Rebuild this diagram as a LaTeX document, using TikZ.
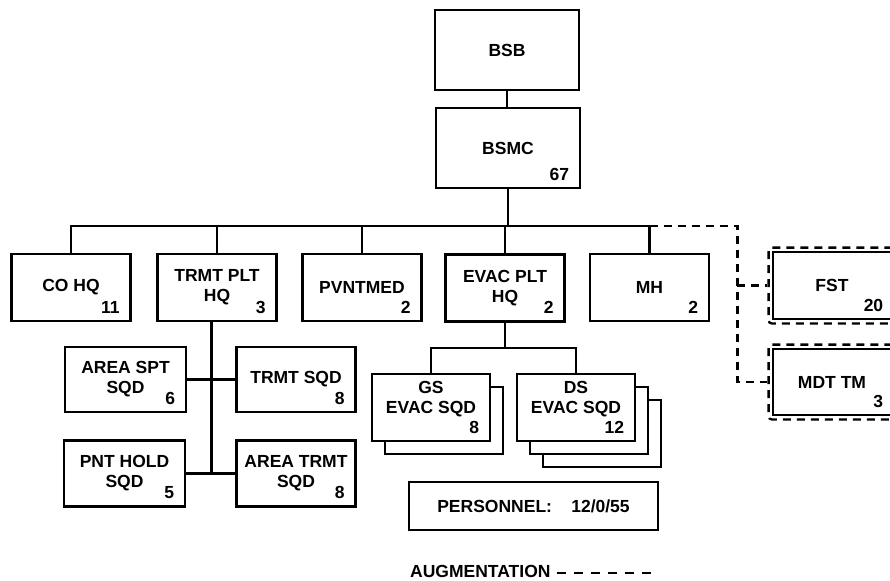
\documentclass[tikz,border=0pt]{standalone}
\usepackage{fontspec}
\setmainfont{Liberation Sans}
\usetikzlibrary{calc,fit,shadows}

\begin{document}
\begin{tikzpicture}[x=1pt, y=-1pt,
		every node/.style={font=\fontsize{17.5}{20}\selectfont\bfseries},
		unit/.style={draw, line width=2.8pt, fill=white, minimum width=119pt, minimum height=67pt, align=center, inner sep=0pt},
		num/.style={anchor=south east, inner sep=0pt, xshift=-12pt, yshift=9pt},
		link/.style={line width=2.8pt},
		augment/.style={line width=2.3pt, dash pattern=on 8pt off 6pt},
		augbox/.style={draw, line width=2.3pt, dash pattern=on 8pt off 6pt, rounded corners=3pt, inner sep=3pt},
		onecopy/.style={copy shadow={shadow xshift=13pt, shadow yshift=-13pt, draw=black, fill=white, line width=2.8pt}},
		twocopy/.style={copy shadow={shadow xshift=26pt, shadow yshift=-26pt, draw=black, fill=white, line width=2.8pt}, onecopy}]
			%%%%% START %%%%%
			\useasboundingbox (0,0) rectangle (890,580);
			
			\node[unit, minimum width=144pt, minimum height=80pt] (bsb) at (507,50) {BSB};
			\node[unit, minimum width=144pt, minimum height=80pt, label={[num]south east:67}] (bsmc) at (508,148) {BSMC};
			
			\node[unit, label={[num]south east:11}] (cohq) at (71,287.5) {CO HQ};
			\node[unit, label={[num]south east:3}] (trmt) at (217,287.5) {TRMT PLT\\HQ};
			\node[unit, label={[num]south east:2}] (pvnt) at (362,287.5) {PVNTMED};
			\node[unit, label={[num]south east:2}] (evac) at (505,288) {EVAC PLT\\HQ};
			\node[unit, label={[num]south east:2}] (mh) at (649.5,287.5) {MH};
			
			\node[unit, minimum width=121pt, minimum height=65pt, label={[num]south east:6}] (arspt) at (125.5,379.5) {AREA SPT\\SQD};
			\node[unit, minimum height=65pt, label={[num]south east:8}] (trsqd) at (296,379.5) {TRMT SQD};
			\node[unit, minimum width=121pt, minimum height=66pt, label={[num]south east:5}] (pnthold) at (124.5,473.5) {PNT HOLD\\SQD};
			\node[unit, minimum height=66pt, label={[num]south east:8}] (artrmt) at (296,473.5) {AREA TRMT\\SQD};
			
			\node[unit, minimum width=118pt, onecopy, label={[num]south east:8}] (gs) at (431,407.5) {GS\\EVAC SQD\\\mbox{}};
			\node[unit, minimum width=118pt, twocopy, label={[num]south east:12}] (ds) at (576,407.5) {DS\\EVAC SQD\\\mbox{}};
			
			\node[draw, line width=2.8pt, minimum width=249pt, minimum height=48pt] (pers) at (533.5,506) {PERSONNEL:\hspace{1.1em}12/0/55};
			
			% augmentation teams
			\node[unit, minimum width=118pt, label={[num, xshift=3pt]south east:20}] (fst) at (832,285.5) {FST};
			\node[unit, minimum width=118pt, minimum height=66pt, label={[num, xshift=3pt]south east:3}] (mdt) at (832,382) {MDT TM};
			\node[augbox, fit=(fst)] (fstaug) {};
			\node[augbox, fit=(mdt)] (mdtaug) {};
			
			% connectors
			\coordinate (bus) at (0,226);
			\draw[link] (bsb.south) -- (bsb.south |- bsmc.north);
			\draw[link] (bsmc.south) -- (bsmc.south |- bus);
			\draw[link] (cohq.north) |- (mh.north |- bus) -- (mh.north);
			\draw[link] (trmt.north) -- (trmt.north |- bus);
			\draw[link] (pvnt.north) -- (pvnt.north |- bus);
			\draw[link] (evac.north) -- (evac.north |- bus);
			
			\coordinate (trunk) at ($(arspt.east)!0.5!(trsqd.west)$);
			\draw[link] (trmt.south -| trunk) -- (trunk |- pnthold.east);
			\draw[link] (arspt.east) -- (trsqd.west);
			\draw[link] (pnthold.east) -- (artrmt.west);
			
			\coordinate (evjoin) at ($(evac.south)+(0,25)$);
			\draw[link] (evac.south) -- (evjoin);
			\draw[link] (gs.north) |- (evjoin) -| (ds.north);
			
			\coordinate (augdrop) at ($(fstaug.west)+(-30,0)$);
			\draw[augment] (mh.north |- bus) -| (augdrop |- mdtaug.west) -- (mdtaug.west);
			\draw[augment] (augdrop) -- (fstaug.west);
			
			% legend
			\node[anchor=west, inner sep=0pt] (augtxt) at (410,571) {AUGMENTATION};
			\coordinate (augend) at (653,573);
			\draw[augment, dash pattern=on 9pt off 8pt] ($(augtxt.east)+(6,2)$) -- (augend);
			%%%%% END %%%%%
\end{tikzpicture}
\end{document}
